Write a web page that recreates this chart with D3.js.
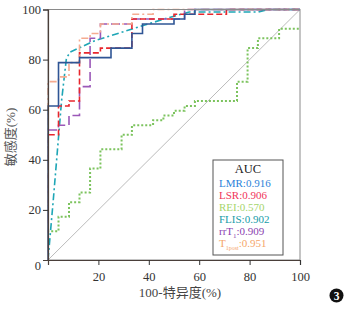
<!DOCTYPE html>
<html>
<head>
<meta charset="utf-8">
<script src="https://cdn.jsdelivr.net/npm/d3@7"></script>
<style>
  body { margin: 0; background: #fff; }
  svg { display: block; }
  text { font-family: "Liberation Serif", "Times New Roman", serif; }
</style>
</head>
<body>
<svg id="chart" width="348" height="312"></svg>
<script>
// DATA (percent values)
var lmrFpr = [0, 0, 4.17, 12.5, 25, 33.3, 37.5, 50, 54.2, 58.3, 100];
var lmrTpr = [0, 61.5, 78.8, 80.8, 84.6, 90.4, 94.2, 96.2, 98.1, 100, 100];

var lsrFpr = [0, 0, 4.17, 8.33, 12.5, 20.8, 33.3, 50, 70.8, 100];
var lsrTpr = [0, 50, 61.5, 63.5, 82.7, 84.6, 96.2, 98.1, 100, 100];

var reiFpr = [0, 0, 4.17, 8.33, 12.5, 16.7, 20.8, 29.2, 33.3, 41.7, 45.8, 50, 54.2, 58.3, 75, 79.2, 83.3, 91.7, 100];
var reiTpr = [0, 11.5, 17.3, 23.1, 26.9, 36.5, 44.2, 50, 53.8, 55.8, 57.7, 59.6, 61.5, 63.5, 71.2, 84.6, 88.5, 92.3, 92.3];

var flisFpr = [0, 2.1, 5.4, 7.3, 8.8, 18.7, 46.4, 56, 83.3, 87.5, 100];
var flisTpr = [0, 24, 63.7, 80.5, 83, 87.6, 96.3, 99, 99, 100, 100];

var rrt1Fpr = [0, 0, 4.17, 8.33, 12.5, 16.7, 20.8, 33.3, 54.2, 100];
var rrt1Tpr = [0, 51.9, 53.8, 57.7, 69.2, 88.5, 94.2, 96.2, 100, 100];

var t1postFpr = [0, 0, 4.17, 8.33, 12.5, 16.7, 20.8, 33.3, 41.7, 100];
var t1postTpr = [0, 71.2, 73.1, 78.8, 88.5, 90.4, 94.2, 98.1, 100, 100];

var axisTicks = [20, 40, 60, 80, 100];
var aucLabels = ['LMR', 'LSR', 'REI', 'FLIS', 'rrT1', 'T1post'];
var aucValues = ['0.916', '0.906', '0.570', '0.902', '0.909', '0.951'];

// SETUP
var svg = d3.select('#chart');
var x = d3.scaleLinear().domain([0, 100]).range([48, 300]);
var y = d3.scaleLinear().domain([0, 100]).range([260, 9.5]);

function zip(xs, ys) {
  return xs.map(function (v, i) { return [v, ys[i]]; });
}

/**
 * Series (drawn bottom to top)
 */
var series = [
  { name: 'REI', pts: zip(reiFpr, reiTpr), color: '#7cc35e', dash: '2,2', width: 2, curve: d3.curveStepAfter },
  { name: 'FLIS', pts: zip(flisFpr, flisTpr), color: '#1ea6b6', dash: '7,3,2,3', width: 1.6, curve: d3.curveLinear },
  { name: 'rrT1', pts: zip(rrt1Fpr, rrt1Tpr), color: '#9b58b8', dash: '9,4', width: 1.6, curve: d3.curveStepAfter },
  { name: 'LSR', pts: zip(lsrFpr, lsrTpr), color: '#e8262d', dash: '6,3', width: 1.6, curve: d3.curveStepAfter },
  { name: 'T1post', pts: zip(t1postFpr, t1postTpr), color: '#f6ab90', dash: '7,3,2,3', width: 1.6, curve: d3.curveStepAfter },
  { name: 'LMR', pts: zip(lmrFpr, lmrTpr), color: '#2f5595', dash: null, width: 1.6, curve: d3.curveStepAfter }
];

// reference diagonal
svg.append('line')
  .attr('x1', x(0)).attr('y1', y(0))
  .attr('x2', x(100)).attr('y2', y(100))
  .attr('stroke', '#aaa')
  .attr('stroke-width', 0.8);

series.forEach(function (s) {
  var line = d3.line()
    .x(function (d) { return x(d[0]); })
    .y(function (d) { return y(d[1]); })
    .curve(s.curve);
  svg.append('path')
    .attr('d', line(s.pts))
    .attr('fill', 'none')
    .attr('stroke', s.color)
    .attr('stroke-width', s.width)
    .attr('stroke-dasharray', s.dash);
});

// frame
svg.append('rect')
  .attr('x', x(0)).attr('y', y(100))
  .attr('width', x(100) - x(0))
  .attr('height', y(0) - y(100))
  .attr('fill', 'none')
  .attr('stroke', '#8a8a8a')
  .attr('stroke-width', 1);

/**
 * Axes
 */
var xAxis = svg.append('g')
  .attr('transform', 'translate(0,' + y(0) + ')')
  .call(d3.axisBottom(x).tickValues(axisTicks).tickSize(5).tickPadding(7));
var yAxis = svg.append('g')
  .attr('transform', 'translate(' + x(0) + ',0)')
  .call(d3.axisLeft(y).tickValues(axisTicks).tickSize(5).tickPadding(2));

[xAxis, yAxis].forEach(function (ax) {
  ax.select('.domain').attr('stroke', '#4a3f3a').attr('stroke-width', 1.2);
  ax.selectAll('.tick line').attr('stroke', '#333');
  ax.selectAll('.tick text')
    .style('font-size', '12.5px')
    .style('font-family', '"Liberation Serif", serif')
    .attr('fill', '#333');
});

// shared origin label
svg.append('text')
  .attr('x', 41).attr('y', 270)
  .attr('text-anchor', 'end')
  .style('font-size', '12.5px')
  .attr('fill', '#333')
  .text('0');

// axis titles
svg.append('text')
  .attr('x', 180).attr('y', 297)
  .attr('text-anchor', 'middle')
  .style('font-size', '13px')
  .style('font-family', '"Liberation Serif", "Noto Sans CJK SC", serif')
  .attr('fill', '#444')
  .text('100-特异度(%)');

svg.append('text')
  .attr('transform', 'translate(15,137) rotate(-90)')
  .attr('text-anchor', 'middle')
  .style('font-size', '13px')
  .style('font-family', '"Liberation Serif", "Noto Sans CJK SC", serif')
  .attr('fill', '#555')
  .text('敏感度(%)');

/**
 * Legend box
 */
var legend = svg.append('g').attr('transform', 'translate(213,160)');
legend.append('rect')
  .attr('width', 70).attr('height', 95)
  .attr('fill', '#fff')
  .attr('stroke', '#555')
  .attr('stroke-width', 1);
legend.append('text')
  .attr('x', 35).attr('y', 13)
  .attr('text-anchor', 'middle')
  .style('font-size', '12.5px')
  .attr('fill', '#222')
  .text('AUC');

var legendColors = {
  LMR: '#2b82d9', LSR: '#f0345a', REI: '#a6d56c',
  FLIS: '#169ca8', rrT1: '#8b3fb0', T1post: '#f5a66a'
};

aucLabels.forEach(function (name, i) {
  var t = legend.append('text')
    .attr('x', 6).attr('y', 27 + i * 12)
    .style('font-size', '11px')
    .attr('fill', legendColors[name]);
  if (name === 'rrT1') {
    t.append('tspan').text('rrT');
    t.append('tspan').attr('dy', 3).style('font-size', '7px').text('1');
    t.append('tspan').attr('dy', -3).text(':' + aucValues[i]);
  } else if (name === 'T1post') {
    t.append('tspan').text('T');
    t.append('tspan').attr('dy', 3).style('font-size', '6px').text('1post');
    t.append('tspan').attr('dy', -3).text(':' + aucValues[i]);
  } else {
    t.text(name + ':' + aucValues[i]);
  }
});

// panel number
svg.append('circle')
  .attr('cx', 336.5).attr('cy', 295.5).attr('r', 7)
  .attr('fill', '#111');
svg.append('text')
  .attr('x', 336.5).attr('y', 299.5)
  .attr('text-anchor', 'middle')
  .style('font-size', '11.5px')
  .style('font-weight', 'bold')
  .attr('fill', '#fff')
  .text('3');
</script>
</body>
</html>
